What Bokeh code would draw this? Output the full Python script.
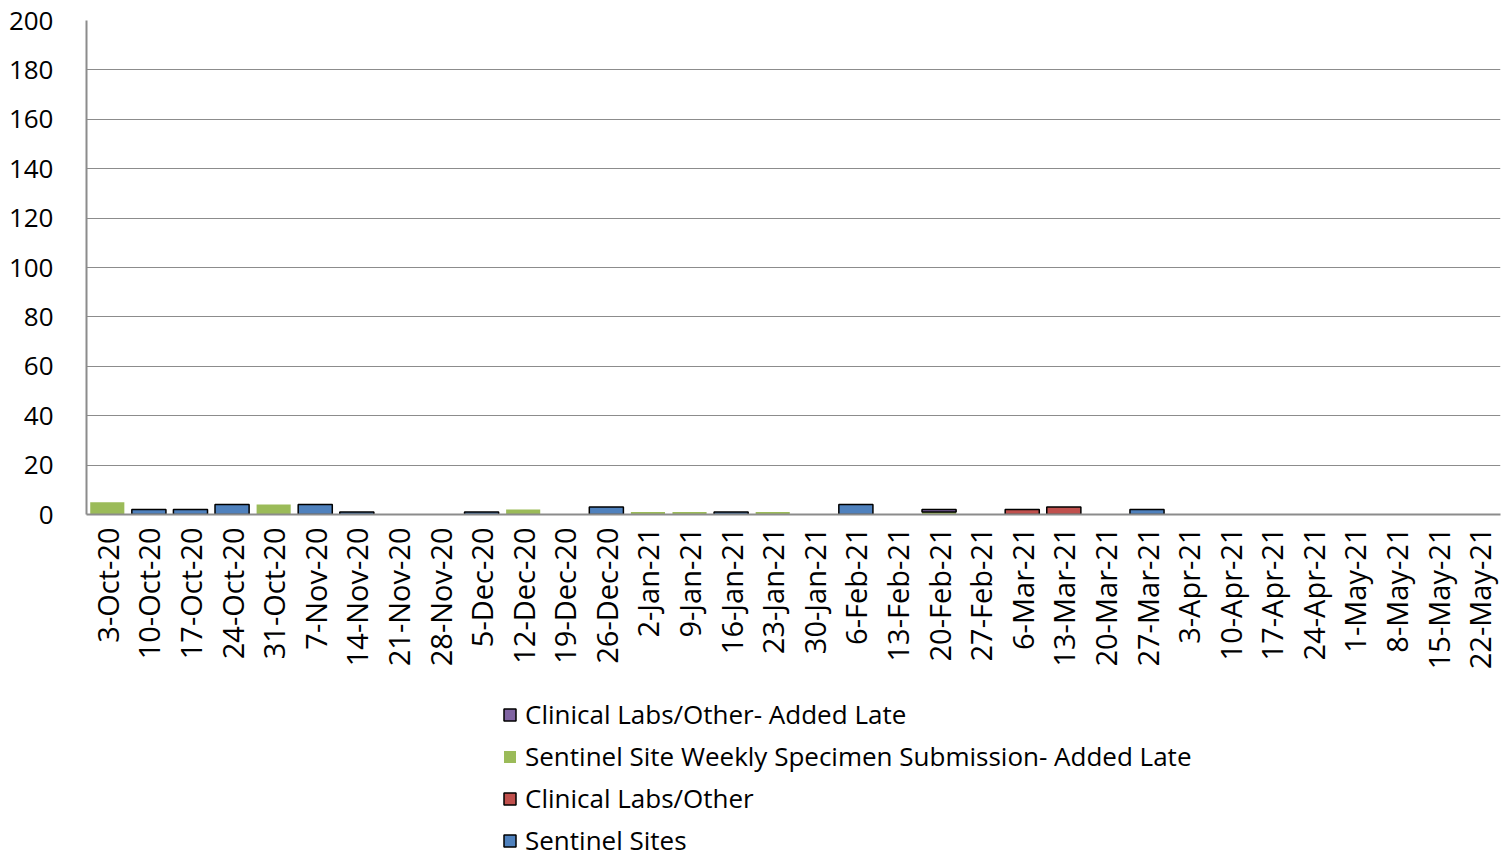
from bokeh.plotting import figure
from bokeh.models import Legend, LegendItem, FixedTicker, Range1d, ColumnDataSource
from bokeh.layouts import column
from bokeh.embed import file_html
from bokeh.resources import INLINE
from math import pi

weeks = ["3-Oct-20", "10-Oct-20", "17-Oct-20", "24-Oct-20", "31-Oct-20", "7-Nov-20",
         "14-Nov-20", "21-Nov-20", "28-Nov-20", "5-Dec-20", "12-Dec-20", "19-Dec-20",
         "26-Dec-20", "2-Jan-21", "9-Jan-21", "16-Jan-21", "23-Jan-21", "30-Jan-21",
         "6-Feb-21", "13-Feb-21", "20-Feb-21", "27-Feb-21", "6-Mar-21", "13-Mar-21",
         "20-Mar-21", "27-Mar-21", "3-Apr-21", "10-Apr-21", "17-Apr-21", "24-Apr-21",
         "1-May-21", "8-May-21", "15-May-21", "22-May-21"]

sentinel_sites = [0, 2, 2, 4, 0, 4, 1, 0, 0, 1, 0, 0, 3, 0, 0, 1, 0, 0,
                  4, 0, 0, 0, 0, 0, 0, 2, 0, 0, 0, 0, 0, 0, 0, 0]
clinical_labs = [0, 0, 0, 0, 0, 0, 0, 0, 0, 0, 0, 0, 0, 0, 0, 0, 0, 0,
                 0, 0, 0, 0, 2, 3, 0, 0, 0, 0, 0, 0, 0, 0, 0, 0]
sentinel_late = [5, 0, 0, 0, 4, 0, 0, 0, 0, 0, 2, 0, 0, 1, 1, 0, 1, 0,
                 0, 0, 1, 0, 0, 0, 0, 0, 0, 0, 0, 0, 0, 0, 0, 0]
clinical_late = [0, 0, 0, 0, 0, 0, 0, 0, 0, 0, 0, 0, 0, 0, 0, 0, 0, 0,
                 0, 0, 1, 0, 0, 0, 0, 0, 0, 0, 0, 0, 0, 0, 0, 0]

series_labels = ["Sentinel Sites", "Clinical Labs/Other",
                 "Sentinel Site Weekly Specimen Submission- Added Late",
                 "Clinical Labs/Other- Added Late"]
series_colors = ["#4F81BD", "#C0504D", "#9BBB59", "#8064A2"]
series_outline = [True, True, False, True]

y_ticks = [0, 20, 40, 60, 80, 100, 120, 140, 160, 180, 200]

FONT = "Open Sans"

p = figure(x_range=weeks, y_range=Range1d(0, 200), width=1510, height=672,
           output_backend="svg", toolbar_location=None,
           min_border_left=86, min_border_top=20, min_border_right=10,
           min_border_bottom=157)
p.outline_line_color = None

# legend panel below the chart; its (hidden) renderers share the bar sources
leg_fig = figure(width=1510, height=186, output_backend="svg", toolbar_location=None,
                 x_range=p.x_range, y_range=Range1d(0, 200),
                 x_axis_location=None, y_axis_location=None, min_border=0)
leg_fig.outline_line_color = None
leg_fig.grid.grid_line_color = None

bottom = [0] * len(weeks)
legend_items = []
for vals, label, color, outline in zip(
        [sentinel_sites, clinical_labs, sentinel_late, clinical_late],
        series_labels, series_colors, series_outline):
    top = [b + v for b, v in zip(bottom, vals)]
    src = ColumnDataSource(dict(x=weeks, bottom=bottom, top=top,
                                la=[1 if v > 0 else 0 for v in vals]))
    lc = "black" if outline else None
    p.vbar(x="x", bottom="bottom", top="top", width=0.82, source=src,
           fill_color=color, line_color=lc, line_width=1.5, line_alpha="la")
    r = leg_fig.vbar(x="x", bottom="bottom", top="top", width=0.82, source=src,
                     fill_color=color, line_color=lc, line_width=1.5, visible=False)
    legend_items.append(LegendItem(label=label, renderers=[r]))
    bottom = top

p.yaxis.ticker = FixedTicker(ticks=y_ticks)
p.yaxis.major_label_text_font = FONT
p.yaxis.major_label_text_font_size = "26px"
p.yaxis.major_label_text_color = "black"
p.yaxis.major_tick_line_color = None
p.yaxis.minor_tick_line_color = None
p.yaxis.axis_line_color = "#8c8c8c"
p.yaxis.axis_line_width = 2
p.yaxis.major_label_standoff = 27

p.xaxis.major_label_orientation = pi / 2
p.xaxis.major_label_text_font = FONT
p.xaxis.major_label_text_font_size = "29px"
p.xaxis.major_label_text_color = "black"
p.xaxis.major_tick_line_color = None
p.xaxis.axis_line_color = "#8c8c8c"
p.xaxis.axis_line_width = 2
p.xaxis.major_label_standoff = 7

p.xgrid.grid_line_color = None
p.ygrid.grid_line_color = "#8c8c8c"
p.ygrid.grid_line_width = 1.2

legend = Legend(items=list(reversed(legend_items)), orientation="vertical",
                location=(416, 0))
legend.label_text_font = FONT
legend.label_text_font_size = "26px"
legend.label_text_color = "black"
legend.label_height = 26
legend.glyph_width = 15
legend.glyph_height = 15
legend.spacing = 6
legend.label_standoff = 8
legend.border_line_color = None
legend.background_fill_alpha = 0
legend.inactive_fill_alpha = 0
legend.padding = 0
legend.margin = 0
leg_fig.add_layout(legend, "center")

open("out.html", "w").write(file_html(column(p, leg_fig), INLINE))
